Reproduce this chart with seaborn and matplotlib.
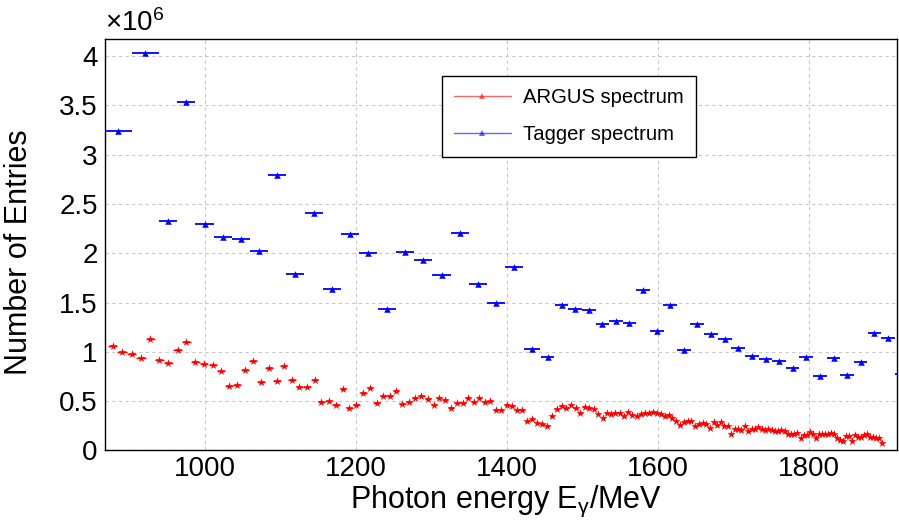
import numpy as np
import pandas as pd
import seaborn as sns
import matplotlib.pyplot as plt
from matplotlib.lines import Line2D
from matplotlib.ticker import MultipleLocator, FuncFormatter

# Tagger spectrum (blue), entries in units of 1e6
tagger_energy = [885.4, 921.2, 951.0, 975.5, 999.7, 1023.8, 1047.8, 1071.9, 1096.0, 1120.0,
                 1144.4, 1168.5, 1192.7, 1216.8, 1241.0, 1265.3, 1289.0, 1313.6, 1337.7, 1362.0,
                 1385.8, 1410.0, 1433.5, 1454.5, 1472.8, 1490.5, 1508.6, 1526.6, 1544.8, 1562.5,
                 1580.5, 1598.7, 1616.3, 1634.6, 1652.0, 1670.6, 1688.8, 1706.7, 1725.0, 1742.8,
                 1760.7, 1778.8, 1796.8, 1815.0, 1833.0, 1850.7, 1868.8, 1886.9, 1904.9, 1923.0]
tagger_entries = [3.243, 4.031, 2.328, 3.538, 2.294, 2.169, 2.142, 2.027, 2.794, 1.790,
                  2.405, 1.641, 2.199, 2.006, 1.438, 2.013, 1.935, 1.783, 2.209, 1.692,
                  1.493, 1.860, 1.026, 0.951, 1.472, 1.432, 1.428, 1.278, 1.311, 1.293,
                  1.625, 1.215, 1.479, 1.016, 1.286, 1.185, 1.134, 1.036, 0.958, 0.931,
                  0.908, 0.840, 0.951, 0.752, 0.938, 0.769, 0.895, 1.195, 1.144, 0.773]
tagger_width = [36, 36] + [24] * 20 + [22, 17] + [18] * 26

# ARGUS spectrum (red), entries in units of 1e6
argus_energy = [878.1, 890.5, 903.3, 915.6, 927.9, 939.9, 951.8, 964.2, 975.6, 987.5,
                999.1, 1010.6, 1021.2, 1031.8, 1042.4, 1053.4, 1064.4, 1075.0, 1085.2, 1095.8,
                1104.6, 1115.2, 1125.3, 1135.5, 1145.7, 1154.0, 1164.2, 1173.9, 1183.2, 1191.5,
                1200.8, 1210.1, 1218.9, 1227.8, 1236.6, 1245.4, 1253.4, 1261.7, 1270.6, 1278.5,
                1286.9, 1295.4, 1303.3, 1310.7, 1318.7, 1326.2, 1333.8, 1341.7, 1349.1, 1356.7,
                1363.7, 1371.3, 1378.3, 1385.4, 1392.8, 1400.0, 1407.0, 1413.6, 1420.7, 1427.3,
                1433.9, 1440.5, 1447.1, 1453.8, 1460.0, 1466.2, 1472.8, 1478.9, 1485.2, 1491.4,
                1497.5, 1503.3, 1509.4, 1515.2, 1520.9, 1527.2, 1532.4, 1538.1, 1543.8, 1550.1,
                1555.4, 1561.1, 1566.4, 1572.2, 1577.5, 1582.8, 1588.5, 1593.4, 1598.7, 1604.0,
                1609.3, 1614.6, 1619.3, 1624.6, 1629.5, 1634.4, 1639.7, 1644.5, 1649.8, 1654.7,
                1659.6, 1664.4, 1669.3, 1674.2, 1678.9, 1683.4, 1688.2, 1692.7, 1697.1, 1702.0,
                1706.4, 1710.7, 1715.6, 1720.0, 1724.5, 1728.9, 1733.2, 1737.7, 1742.1, 1746.5,
                1751.0, 1755.4, 1759.3, 1763.7, 1768.2, 1772.2, 1776.6, 1780.9, 1784.9, 1789.4,
                1793.4, 1797.7, 1801.7, 1805.7, 1810.1, 1814.0, 1818.0, 1822.0, 1826.0, 1829.9,
                1833.9, 1837.9, 1841.9, 1845.8, 1849.8, 1853.8, 1857.7, 1861.7, 1865.7, 1869.7,
                1873.6, 1877.6, 1881.6, 1885.6, 1889.5, 1893.1, 1897.1]
argus_entries = [1.060, 1.002, 0.979, 0.941, 1.131, 0.918, 0.891, 1.016, 1.100, 0.898,
                 0.881, 0.870, 0.806, 0.658, 0.661, 0.820, 0.911, 0.695, 0.834, 0.708,
                 0.860, 0.712, 0.644, 0.644, 0.718, 0.489, 0.502, 0.465, 0.621, 0.434,
                 0.458, 0.578, 0.637, 0.479, 0.556, 0.550, 0.603, 0.475, 0.492, 0.536,
                 0.556, 0.525, 0.461, 0.529, 0.509, 0.428, 0.479, 0.479, 0.536, 0.492,
                 0.529, 0.492, 0.499, 0.414, 0.411, 0.461, 0.448, 0.408, 0.411, 0.302,
                 0.316, 0.279, 0.269, 0.252, 0.353, 0.418, 0.448, 0.428, 0.465, 0.431,
                 0.377, 0.444, 0.431, 0.418, 0.373, 0.330, 0.377, 0.370, 0.377, 0.380,
                 0.350, 0.387, 0.360, 0.353, 0.367, 0.380, 0.383, 0.387, 0.377, 0.367,
                 0.347, 0.360, 0.333, 0.299, 0.259, 0.286, 0.299, 0.299, 0.252, 0.272,
                 0.276, 0.272, 0.225, 0.286, 0.259, 0.289, 0.248, 0.248, 0.170, 0.218,
                 0.218, 0.205, 0.252, 0.198, 0.215, 0.218, 0.235, 0.215, 0.208, 0.221,
                 0.208, 0.201, 0.195, 0.205, 0.195, 0.167, 0.170, 0.170, 0.181, 0.124,
                 0.154, 0.154, 0.185, 0.167, 0.130, 0.170, 0.165, 0.172, 0.168, 0.174,
                 0.170, 0.124, 0.110, 0.099, 0.150, 0.150, 0.096, 0.157, 0.137, 0.137,
                 0.154, 0.164, 0.140, 0.140, 0.130, 0.124, 0.073]

legend_labels = ['ARGUS spectrum', 'Tagger spectrum']

sns.set_style('white')
plt.rcParams['font.family'] = ['Liberation Sans', 'DejaVu Sans']
plt.rcParams['mathtext.fontset'] = 'custom'
plt.rcParams['mathtext.rm'] = 'Liberation Sans'
plt.rcParams['mathtext.it'] = 'Liberation Sans'
for key in ['text.color', 'axes.labelcolor', 'xtick.color', 'ytick.color']:
    plt.rcParams[key] = 'black'

tagger = pd.DataFrame({'E': tagger_energy, 'N': tagger_entries, 'w': tagger_width})
argus = pd.DataFrame({'E': argus_energy, 'N': argus_entries})
argus['w'] = np.gradient(argus['E'].values)

fig = plt.figure(figsize=(8.99, 5.29), dpi=100)
ax = fig.add_axes([0.1165, 0.1484, 0.8813, 0.7779])

# horizontal bin-width bars
ax.hlines(tagger['N'], tagger['E'] - tagger['w'] / 2, tagger['E'] + tagger['w'] / 2,
          color='#0000ff', lw=1.3, zorder=3)
ax.hlines(argus['N'], argus['E'] - argus['w'] / 2, argus['E'] + argus['w'] / 2,
          color='#ff0000', lw=1.0, zorder=3)
sns.scatterplot(data=tagger, x='E', y='N', marker='^', s=22, color='#0000ff',
                linewidth=0, ax=ax, zorder=4)
sns.scatterplot(data=argus, x='E', y='N', marker='*', s=38, color='#ff0000',
                linewidth=0, ax=ax, zorder=4)

ax.set_xlim(867.5, 1917)
ax.set_ylim(0, 4.173)
ax.xaxis.set_major_locator(MultipleLocator(200))
ax.xaxis.set_minor_locator(MultipleLocator(50))
ax.yaxis.set_major_locator(MultipleLocator(0.5))
ax.yaxis.set_minor_locator(MultipleLocator(0.1))
ax.yaxis.set_major_formatter(FuncFormatter(lambda v, p: f'{v:g}'))
ax.tick_params(axis='x', which='major', direction='in', length=8.6, width=0.8,
               labelsize=20, pad=4, top=False)
ax.tick_params(axis='x', which='minor', direction='in', length=4.3, width=0.8, top=False)
ax.tick_params(axis='y', which='major', direction='in', length=17, width=0.8,
               labelsize=20, pad=5, right=False)
ax.tick_params(axis='y', which='minor', direction='in', length=8.6, width=0.8, right=False)
ax.grid(True, which='major', linestyle=(0, (3, 3)), color='#c8c8c8', lw=0.8)
ax.set_axisbelow(True)
for sp in ax.spines.values():
    sp.set_color('black')
    sp.set_linewidth(1.0)

ax.set_xlabel('Photon energy E$_{\\gamma}$/MeV', fontsize=22)
ax.set_ylabel('Number of Entries', fontsize=22)
ax.xaxis.set_label_coords(0.5065, -0.08)
ax.yaxis.set_label_coords(-0.089, 0.483)
fig.text(105 / 899, 1 - 31 / 529, '$\\times$10$^{6}$', fontsize=20, va='baseline', ha='left')

handles = [Line2D([], [], color='#ff0000', lw=1, alpha=0.6, marker='^', markersize=4,
                  markerfacecolor='#ff0000', markeredgewidth=0),
           Line2D([], [], color='#0000ff', lw=1, alpha=0.6, marker='^', markersize=4,
                  markerfacecolor='#0000ff', markeredgewidth=0)]
leg = ax.legend(handles, legend_labels, loc='upper left', bbox_to_anchor=(0.4253, 0.910),
                borderaxespad=0, frameon=True, fancybox=False, edgecolor='black',
                framealpha=1, fontsize=14.6, handlelength=2.8, handletextpad=0.6,
                borderpad=0.6, labelspacing=0.9)
leg.get_frame().set_linewidth(1.0)

fig.savefig('out.png', dpi=100)
